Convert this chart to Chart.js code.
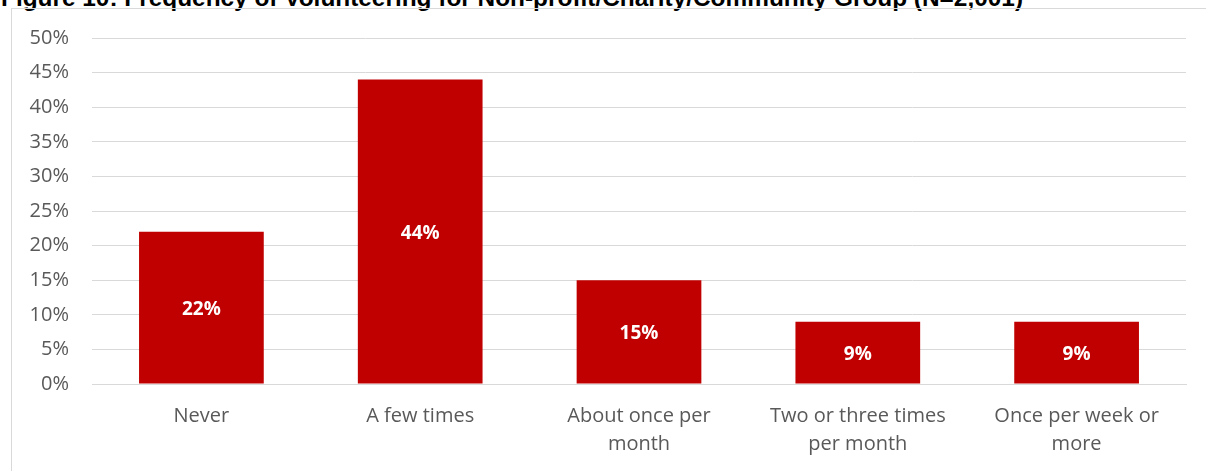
<!DOCTYPE html>
<html>
<head>
<meta charset="utf-8">
<script src="https://cdn.jsdelivr.net/npm/chart.js@4"></script>
<style>
  html, body { margin: 0; padding: 0; background: #fff; overflow: hidden; }
  #wrap { position: relative; width: 1206px; height: 471px; overflow: hidden; }
  #title {
    position: absolute; left: 1px; top: -14px; white-space: nowrap;
    font: bold 24.4px "Liberation Sans", Arial, sans-serif; line-height: 24px; color: #000;
  }
  #frame {
    position: absolute; left: 11px; top: 8px; width: 1300px; height: 480px;
    border: 1px solid #d9d9d9; box-sizing: border-box;
  }
  #box { position: absolute; left: 0; top: 0; width: 1206px; height: 471px; }
</style>
</head>
<body>
<div id="wrap">
  <div id="title">Figure 10: Frequency of Volunteering for Non-profit/Charity/Community Group (N=2,001)</div>
  <div id="frame"></div>
  <div id="box"><canvas id="chart"></canvas></div>
</div>
<script>
// chart values
const categories = [
    "Never",
    "A few times",
    ["About once per", "month"],
    ["Two or three times", "per month"],
    ["Once per week or", "more"]
];
const shares = [22, 44, 15, 9, 9];
const yTicks = [0, 5, 10, 15, 20, 25, 30, 35, 40, 45, 50];

const tickFont = { family: "'Open Sans', Lato, sans-serif", size: 20, lineHeight: 1.4 };

// white percentage labels inside each bar
const barLabels = {
    id: "barLabels",
    afterDatasetsDraw(chart) {
        const ctx = chart.ctx;
        const meta = chart.getDatasetMeta(0);
        ctx.save();
        ctx.fillStyle = "#ffffff";
        ctx.font = "bold 19px 'Open Sans', Lato, sans-serif";
        ctx.textAlign = "center";
        ctx.textBaseline = "middle";
        meta.data.forEach((bar, i) => {
            const mid = (bar.y + bar.base) / 2;
            ctx.fillText(shares[i] + "%", bar.x, mid + 2);
        });
        ctx.restore();
    }
};

const ctx = document.getElementById("chart").getContext("2d");
const chart = new Chart(ctx, {
    type: "bar",
    data: {
        labels: categories,
        datasets: [{
            data: shares,
            backgroundColor: "#c00000",
            borderWidth: 0,
            barPercentage: 0.57,
            categoryPercentage: 1.0
        }]
    },
    options: {
        responsive: true,
        maintainAspectRatio: false,
        animation: false,
        layout: { padding: { left: 0, top: 38, right: 20, bottom: 0 } },
        plugins: { legend: { display: false }, tooltip: { enabled: false } },
        scales: {
            x: {
                grid: { display: false },
                border: { color: "#d9d9d9", width: 1 },
                ticks: { color: "#595959", font: tickFont, maxRotation: 0, autoSkip: false, padding: 10 },
                afterFit(scale) { scale.height = 87; }
            },
            y: {
                min: 0,
                max: 50,
                afterBuildTicks(scale) { scale.ticks = yTicks.map(v => ({ value: v })); },
                grid: { color: "#d9d9d9", drawTicks: false },
                border: { display: false },
                ticks: {
                    color: "#595959", font: tickFont, padding: 23,
                    callback: v => v + "%"
                },
                afterFit(scale) { scale.width = 92; }
            }
        }
    },
    plugins: [barLabels]
});
</script>
</body>
</html>
